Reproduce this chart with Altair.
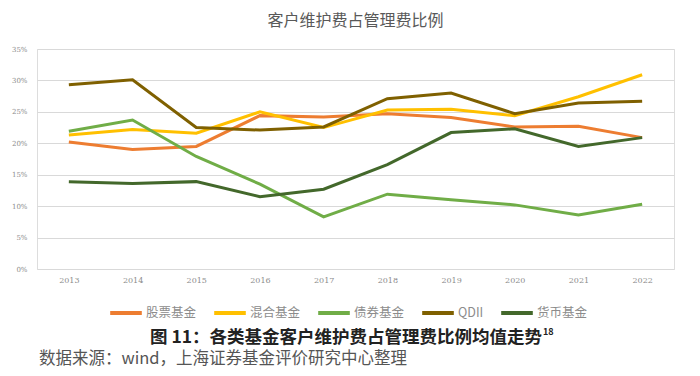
import altair as alt
import pandas as pd

years = ["2013", "2014", "2015", "2016", "2017", "2018", "2019", "2020", "2021", "2022"]
series_names = ["股票基金", "混合基金", "债券基金", "QDII", "货币基金"]
colors = ["#ED7D31", "#FFC000", "#70AD47", "#7F6000", "#43682B"]

equity = [20.2, 19.0, 19.5, 24.4, 24.2, 24.7, 24.1, 22.6, 22.7, 20.9]
hybrid = [21.3, 22.2, 21.6, 25.0, 22.5, 25.3, 25.4, 24.4, 27.4, 30.9]
bond = [21.9, 23.7, 17.9, 13.5, 8.3, 11.9, 11.0, 10.2, 8.6, 10.3]
qdii = [29.3, 30.1, 22.5, 22.1, 22.6, 27.1, 28.0, 24.7, 26.4, 26.7]
money = [13.9, 13.6, 13.9, 11.5, 12.7, 16.6, 21.7, 22.3, 19.5, 20.9]

all_values = [equity, hybrid, bond, qdii, money]

rows = []
for name, vals in zip(series_names, all_values):
    for y, v in zip(years, vals):
        rows.append({"year": y, "series": name, "value": v / 100.0})
df = pd.DataFrame(rows)

chart_title = "客户维护费占管理费比例"
caption_main = "图 11：各类基金客户维护费占管理费比例均值走势"
caption_sup = "18"
source_text = "数据来源：wind，上海证券基金评价研究中心整理"

FONT = "Noto Sans CJK SC"

lines = alt.Chart(df).mark_line(strokeWidth=3).encode(
    x=alt.X("year:O", scale=alt.Scale(padding=0.5), sort=years,
            axis=alt.Axis(title=None, labelAngle=0, labelFontSize=8, labelColor="#8c8c8c",
                          ticks=False, domain=False, labelPadding=7, labelFont="DejaVu Serif")),
    y=alt.Y("value:Q", scale=alt.Scale(domain=[0, 0.35]),
            axis=alt.Axis(title=None, format=".0%", values=[0, 0.05, 0.1, 0.15, 0.2, 0.25, 0.3, 0.35],
                          labelFontSize=7, labelColor="#8c8c8c", ticks=False, domain=False,
                          labelPadding=10, gridColor="#d9d9d9", labelFont="DejaVu Serif")),
    color=alt.Color("series:N", scale=alt.Scale(domain=series_names, range=colors),
                    legend=alt.Legend(title=None, orient="none", direction="horizontal",
                                      legendX=71, legendY=246, symbolType="stroke",
                                      symbolStrokeWidth=4, symbolSize=1000,
                                      labelFontSize=12.5, labelColor="#8c8c8c", labelFont=FONT,
                                      columnPadding=9, symbolOffset=0, labelOffset=2)),
    order=alt.Order("year:O"),
)

cap = pd.DataFrame({"t": [caption_main]})
caption = alt.Chart(cap).mark_text(fontSize=17.5, fontWeight="bold", font=FONT, color="#222222",
                                    align="left", baseline="middle").encode(
    x=alt.value(113), y=alt.value(289), text="t:N")
sup = alt.Chart(pd.DataFrame({"t": [caption_sup]})).mark_text(
    fontSize=9, fontWeight="bold", font=FONT, color="#222222", align="left", baseline="middle").encode(
    x=alt.value(506), y=alt.value(283), text="t:N")
src = alt.Chart(pd.DataFrame({"t": [source_text]})).mark_text(
    fontSize=16.5, font=FONT, color="#555555", align="left", baseline="middle").encode(
    x=alt.value(2), y=alt.value(310), text="t:N")

chart = alt.layer(lines, caption, sup, src).properties(
    width=637, height=220,
    autosize=alt.AutoSizeParams(type="none"),
    padding={"left": 29, "top": 41, "right": 18, "bottom": 99},
    title=alt.TitleParams(chart_title, fontSize=16, font=FONT, color="#595959", fontWeight="normal",
                          anchor="middle", offset=16),
).configure_view(stroke=None).configure(background="white")

chart.save("out.html", embed_options={"renderer": "svg", "actions": False})
